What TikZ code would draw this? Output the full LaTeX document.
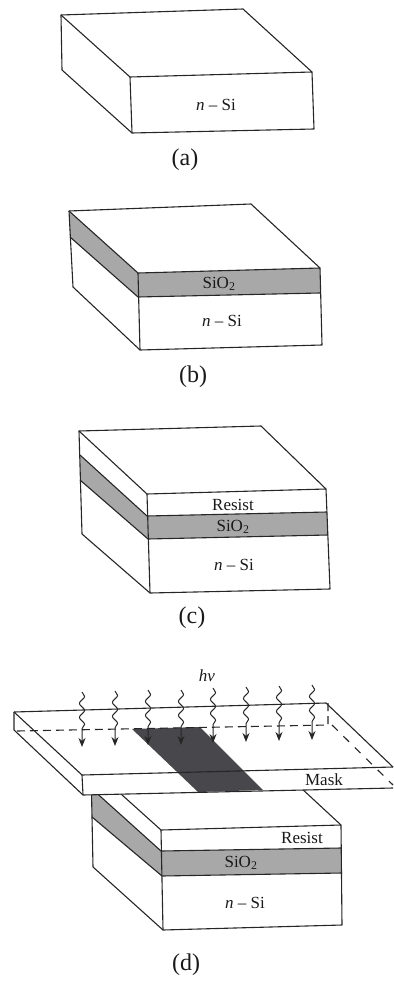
\documentclass[tikz,border=0pt]{standalone}
\usepackage{fontspec}
\usepackage{xcolor}
\usetikzlibrary{arrows.meta, decorations.pathmorphing}
\setmainfont{Liberation Serif}
\definecolor{oxidegray}{RGB}{168, 168, 168}
\definecolor{maskdark}{RGB}{72, 72, 76}
\tikzset{
  edge/.style={line width=1.1pt, line join=round, black!85},
  layertxt/.style={font=\fontsize{17}{19}\selectfont, inner sep=0pt, black!90},
  captiontxt/.style={font=\fontsize{24}{26}\selectfont, inner sep=0pt, black!90},
  wavyarrow/.style={line width=1pt, black!85, -{Stealth[length=9pt,width=7pt]},
    decorate, decoration={snake, amplitude=2.6pt, segment length=14pt, post length=13pt}}
}
\begin{document}
\begin{tikzpicture}[x=1pt, y=-1pt]
\useasboundingbox (0,0) rectangle (393,981);
\begin{scope}[shift={(61,15)}]
\draw[edge] (0,0) -- (182,-6) -- (251,57) -- (253,114) -- (71,118) -- (1,55) -- cycle;
\draw[edge] (0,0) -- (69,62) -- (251,57);
\draw[edge] (69,62) -- (71,118);
\node[layertxt] (siA) at (155,90) {\textit{n} -- Si};
\node[captiontxt] (capA) at (124,145) {(a)};
\end{scope}
\begin{scope}[shift={(69,211)}]
\fill[oxidegray] (0,0) -- (69,62) -- (251,57) -- (251,82) -- (69,86) -- (1,26) -- cycle;
\draw[edge] (0,0) -- (182,-7) -- (251,57) -- (253,134) -- (71,139) -- (4,76) -- cycle;
\draw[edge] (0,0) -- (69,62) -- (251,57);
\draw[edge] (1,26) -- (69,86) -- (251,82);
\draw[edge] (69,62) -- (71,139);
\node[layertxt] (oxB) at (150,73) {SiO\textsubscript{2}};
\node[layertxt] (siB) at (153,110) {\textit{n} -- Si};
\node[captiontxt] (capB) at (124,166) {(b)};
\end{scope}
\begin{scope}[shift={(79,431)}]
\fill[oxidegray] (1,24) -- (68,85) -- (248,81) -- (249,104) -- (69,108) -- (1,49) -- cycle;
\draw[edge] (0,0) -- (182,-5) -- (247,58) -- (251,158) -- (71,162) -- (3,103) -- cycle;
\draw[edge] (0,0) -- (68,63) -- (247,58);
\draw[edge] (1,24) -- (68,85) -- (248,81);
\draw[edge] (1,49) -- (69,108) -- (249,104);
\draw[edge] (68,63) -- (71,162);
\node[layertxt] (reC) at (154,74) {Resist};
\node[layertxt] (oxC) at (154,96) {SiO\textsubscript{2}};
\node[layertxt] (siC) at (155,134) {\textit{n} -- Si};
\node[captiontxt] (capC) at (113,187) {(c)};
\end{scope}
\begin{scope}[shift={(91,767)}]
\fill[oxidegray] (0,21) -- (70,84) -- (250,81) -- (251,106) -- (71,109) -- (1,50) -- cycle;
\draw[edge] (0,0) -- (182,-5) -- (250,58) -- (251,158) -- (72,163) -- (2,100) -- cycle;
\draw[edge] (0,0) -- (70,63) -- (250,58);
\draw[edge] (0,21) -- (70,84) -- (250,81);
\draw[edge] (1,50) -- (71,109) -- (251,106);
\draw[edge] (70,63) -- (72,163);
\node[layertxt] (reD) at (211,71) {Resist};
\node[layertxt] (oxD) at (150,96) {SiO\textsubscript{2}};
\node[layertxt] (siD) at (154,136) {\textit{n} -- Si};
\node[captiontxt] (capD) at (95,198) {(d)};
\end{scope}
\begin{scope}[shift={(14,712)}]
\fill[white] (0,0) -- (312,-9) -- (379,55) -- (379,76) -- (69,83) -- (0,18) -- cycle;
\fill[maskdark] (118,17) -- (186,15) -- (249,78) -- (184,80) -- cycle;
\draw[edge] (0,0) -- (312,-9) -- (379,55);
\draw[edge] (0,0) -- (0,18) -- (69,83) -- (379,76);
\draw[edge] (0,0) -- (68,63) -- (379,55);
\draw[edge] (68,63) -- (69,83);
\draw[edge, dashed, dash pattern=on 8pt off 5pt] (3,19) -- (314,13) -- (314,-9);
\draw[edge, dashed, dash pattern=on 8pt off 8pt] (318,13) -- (379,73);
\foreach \x/\y in {68/35, 101/34, 134/33, 167/33, 199/31, 232/30, 265/29, 298/28}
  \draw[wavyarrow] (\x,\y-55) -- (\x,\y);
\node[layertxt] (maskD) at (310,68) {Mask};
\node[layertxt] (hvD) at (193,-36) {\textit{hv}};
\end{scope}
\end{tikzpicture}
\end{document}
